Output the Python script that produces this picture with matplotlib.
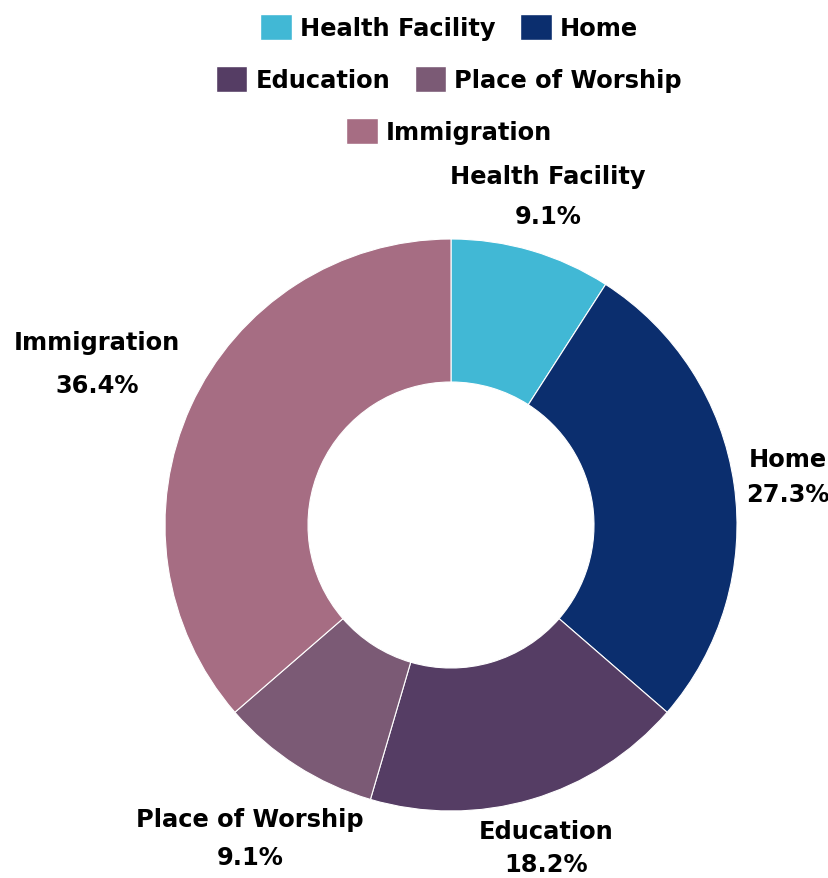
import numpy as np
import matplotlib.pyplot as plt
from matplotlib.patches import Patch

categories = ["Health Facility", "Home", "Education", "Place of Worship", "Immigration"]
counts = [1, 3, 2, 1, 4]
colors = ["#41b8d5", "#0b2e6e", "#553d64", "#7b5a75", "#a66d83"]
# how far out each label sits (radius units) and its line spacing
label_dist = [1.20, 1.19, 1.175, 1.30, 1.36]
label_ls = [1.85, 1.57, 1.48, 1.76, 2.0]

plt.rcParams['font.family'] = ['DejaVu Sans']
fs = 17.4

W, H = 829, 879
fig = plt.figure(figsize=(W / 100, H / 100), dpi=100)
ax = fig.add_axes([0, 0, 1, 1])

# pie centre and radius in pixels
cx, cy, R = 451, 879 - 526, 286

wedges, _ = ax.pie(counts, colors=colors, startangle=90, counterclock=False,
                   radius=1.0, wedgeprops=dict(width=0.5, edgecolor="white", linewidth=0.8))

total = sum(counts)
for w, cat, n, d, ls in zip(wedges, categories, counts, label_dist, label_ls):
    mid = np.deg2rad((w.theta1 + w.theta2) / 2)
    ax.text(d * np.cos(mid), d * np.sin(mid), f"{cat}\n{n / total * 100:.1f}%",
            ha="center", va="center", fontsize=fs, fontweight="bold",
            linespacing=ls, color="black")

ax.set_xlim(-cx / R, (W - cx) / R)
ax.set_ylim(-cy / R, (H - cy) / R)
ax.set_aspect("auto")
ax.axis("off")

# legend rows: 2, 2, 1
rows = [[0, 1], [2, 3], [4]]
row_y = [1 - 28 / H, 1 - 80 / H, 1 - 132 / H]
for idx, y in zip(rows, row_y):
    handles = [Patch(facecolor=colors[i], edgecolor="white", label=categories[i]) for i in idx]
    leg = fig.legend(handles=handles, loc="center", bbox_to_anchor=(449 / W, y),
                     ncol=len(idx), frameon=False,
                     prop=dict(size=fs, weight="bold"),
                     handlelength=1.3, handleheight=1.3, handletextpad=0.33,
                     columnspacing=1.03, borderpad=0, borderaxespad=0)

fig.savefig("out.png", dpi=100)
